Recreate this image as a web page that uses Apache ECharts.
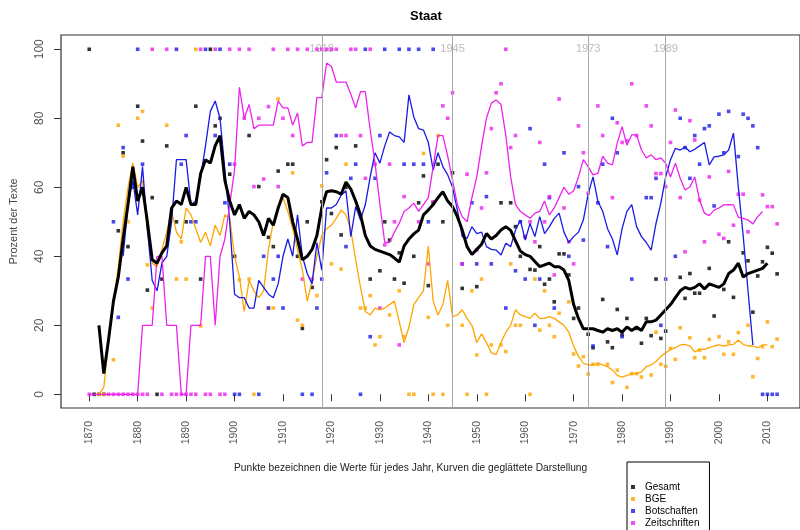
<!DOCTYPE html>
<html>
<head>
<meta charset="utf-8">
<script src="https://cdn.jsdelivr.net/npm/echarts@6/dist/echarts.min.js"></script>
<style>
html,body{margin:0;padding:0;background:#fff;}
#chart{width:800px;height:530px;}
</style>
</head>
<body>
<div id="chart"></div>
<script>
// ---------- DATA ----------
const xTicks = [1870,1880,1890,1900,1910,1920,1930,1940,1950,1960,1970,1980,1990,2000,2010];
const yTicks = [0,20,40,60,80,100];
const eraYears = [1918,1945,1973,1989];
const seriesNames = ['Gesamt','BGE','Botschaften','Zeitschriften'];

// smoothed curves (one value per year, starting at the given year)
const gesamtStart = 1872;
const gesamtSmooth = [20,6,16,27,34,45,55,66,56,60,50,39,38,41,43,54,56,55,60,55,55,64,68,67,72,75,62,56,52,55,51,53,52,50,46,51,49,54,58,57,50,45,39,40,42,46,54,58.7,59,58.7,58,61.5,59.5,56,52,46,43,42,41.5,41,40.5,39.5,38.3,43,45,46.5,47.6,52,53.4,55,57,58.7,56,54.4,51.5,47.6,42.8,40.5,42,43.5,46.6,45,46,47.6,48.6,47.5,44.5,41.5,40.5,40,38.5,37,37.5,38,37,37,36,33,26,22,19,19,19,18.5,18,19,18.5,19,18,19.5,18.5,19.5,18.5,21,21,21.5,23,24.5,26,28,30,31,30.5,31,32,30.5,32,31.5,31,32,35,36,38,34,35,35.5,36,36.5,38];

const bgeStart = 1872;
const bgeSmooth = [0,2,15,27,37,50,60,67,60,62,47,38,37,42,47,53,47,45,54,52,48,44,47,43,49,46,52,51,40,34,24,33,30,28,30,42,50,54,57,53,48,42,36,27,33,40,46,48,49,51,53.4,52,47.6,39,31,24,23,25,24.5,25,26,27,21,15,19.5,26,28,30,43,27,23,26,33,22.5,23,24.5,22,20,15,17.5,15,12,11.5,15,18,20,24.5,23,22.5,22,23.5,22,22,22.5,22,21,20,18,14,11,9,8.5,8.5,9,8.5,8,7,5.5,5,5.5,6,6,6.5,8,8.5,9.5,11,12,13,13.5,14.3,14.5,14,12.3,13,13,13.5,14,14.3,14,14.3,14.5,15.7,14.5,14,14,13.5,14.3,14.3];

const botStart = 1877;
const botSmooth = [40,55,62,52,66,48,33,30,38,40,50,68,68,68,55,56,63,72,82,85,80,65,50,29,28,28,25,25,33,31,29,28,32,40,45,40,52,40,35,32,44,36,54,54,55,57.7,59,45.7,54.4,50.5,55,63,70,67,72,76,75,74.6,73,86.8,80.4,77,76.6,73,65,70,66,63.6,60,53.4,45.7,45.2,48.6,46.6,47,42.8,42,41.8,40.4,43.8,42.8,47.6,50.5,44.7,49.5,45.7,51.5,46.6,48.6,51,52.5,47,44,45.7,47,50.5,58,63,56,53,48,45,40.4,48,53,55,48.6,45.7,44,41.8,49.5,55.4,63,68,71.3,70.8,71.7,70.3,71,72,73,66.5,68.8,69,69.4,70.8,75.7,60,46,30,14.3];

const zeitStart = 1870;
const zeitSmooth = [0,0,0,0,0,0,0,0,0,0,0,20,20,20,40,40,20,20,20,0,0,20,20,20,40,40,20,40,45,55,65,89,80,84,77,78,78,78,78,85,83,83,78,81.5,72,73,73,86,86,96,95,90.5,90.5,90.5,87,83,87.7,87.7,76.6,67,55,44,44,47,49.6,53,54,55.4,53,55,57,66,75,75,69,62,55,51.5,50,57,63,72,80,84.4,85.3,84,75,63,55,53,52,51,52.5,53,56,52,54,57,60,58,59,63,68,66,63.6,64,69,67,66.5,72.8,77.6,72.2,75.2,75.2,70.8,68.5,69.4,68,68.5,67,63,67,62.6,59.2,60.1,63,56.3,52.5,51.8,53.4,54,54.9,55,54.9,51.3,51,50.5,49.4,51.5,53];

// yearly values (points)
const gesamtPoints = [[1870,100],[1871,0],[1872,0],[1873,0],[1876,47.4],[1877,70],[1878,42.8],[1880,83.5],[1881,73.4],[1882,30.2],[1883,57],[1884,0],[1885,33.4],[1886,72],[1888,50],[1890,50],[1892,83.5],[1893,33.4],[1895,100],[1896,77.8],[1897,80],[1899,63.8],[1900,40],[1903,75],[1905,60.2],[1907,45.5],[1908,42.8],[1909,64.7],[1911,66.7],[1912,66.7],[1913,40],[1914,19.1],[1915,50],[1916,31],[1918,55.8],[1919,68],[1920,52.4],[1921,71.5],[1922,46.2],[1923,60],[1925,72],[1928,33.4],[1930,35.8],[1931,50],[1932,44.7],[1933,33.4],[1934,41],[1935,32.2],[1937,40],[1938,55.5],[1939,63.3],[1940,31.5],[1941,55.5],[1942,66.7],[1943,50],[1945,64.2],[1947,30.7],[1950,31.2],[1955,55.5],[1957,55.5],[1958,48.6],[1959,40],[1960,45.7],[1961,36.2],[1962,36],[1963,42.8],[1964,31.9],[1965,33.4],[1966,26.8],[1967,40.7],[1968,40.7],[1969,34.6],[1970,22],[1971,25],[1973,17.4],[1974,13.5],[1976,27.5],[1977,15.2],[1978,13.5],[1979,24.6],[1980,17.2],[1981,22],[1983,19.1],[1984,14.8],[1985,22],[1986,17],[1987,33.4],[1988,16.2],[1989,18.3],[1992,33.9],[1993,27.8],[1994,35],[1995,29.3],[1996,29.3],[1998,36.5],[1999,22.7],[2001,30.4],[2002,44.2],[2003,28.1],[2005,41],[2006,38.7],[2007,23.8],[2008,34.3],[2009,38.4],[2010,42.6],[2011,40.9],[2012,34.9]];

const bgePoints = [[1872,0],[1873,0],[1875,10],[1876,78],[1877,69],[1878,50],[1880,80],[1881,82],[1882,37.5],[1883,25],[1886,78],[1888,33.4],[1889,44.2],[1890,33.4],[1892,100],[1893,19.8],[1901,33.2],[1903,33.4],[1904,0],[1907,25],[1908,25],[1909,85.6],[1912,64.2],[1913,21.5],[1914,20],[1917,28.6],[1918,60.4],[1920,37.8],[1922,36.3],[1923,66.7],[1926,25],[1927,25],[1928,28.6],[1929,14.3],[1930,16.7],[1932,23],[1934,30],[1935,16.7],[1936,0],[1937,0],[1939,69.8],[1940,22.3],[1941,0],[1942,75],[1943,0],[1944,20],[1947,20],[1948,0],[1949,30],[1950,11.4],[1951,33.4],[1952,0],[1953,14.3],[1955,14.3],[1956,12.4],[1957,37.8],[1958,20],[1959,20],[1961,0],[1962,33.4],[1963,18.6],[1964,30],[1965,20],[1966,16.7],[1967,23.5],[1969,26.8],[1970,11.7],[1971,8.2],[1972,10.9],[1973,5.9],[1974,8.7],[1975,8.7],[1977,8.7],[1978,3.4],[1979,7],[1981,2],[1982,6],[1983,6],[1984,5],[1986,5.6],[1987,18],[1988,8.7],[1989,8.1],[1990,13.3],[1991,10.1],[1992,19.3],[1994,16.4],[1995,10.6],[1996,12.8],[1997,10.6],[1998,15.9],[2000,16.7],[2001,11.6],[2002,15.2],[2003,11.6],[2004,17.9],[2006,20],[2007,5.1],[2008,10.4],[2009,13.8],[2010,21],[2011,13.8],[2012,16]];

const botPoints = [[1875,50],[1876,22.3],[1877,71.5],[1878,33.4],[1879,60],[1880,100],[1881,66.7],[1888,100],[1889,66.7],[1890,75],[1891,50],[1892,50],[1894,100],[1896,75],[1897,100],[1898,55.5],[1899,66.7],[1900,0],[1901,0],[1905,0],[1906,40],[1907,25],[1908,33.4],[1909,40],[1910,25],[1914,0],[1916,0],[1917,25],[1918,33.4],[1919,64.2],[1921,75],[1923,42.8],[1924,62.6],[1925,66.7],[1926,0],[1927,100],[1928,16.7],[1929,62.6],[1930,75],[1931,100],[1934,100],[1935,66.7],[1936,100],[1937,66.7],[1938,100],[1939,66.7],[1940,50],[1941,100],[1947,37.8],[1949,55.5],[1950,37.8],[1952,57.3],[1953,37.8],[1956,25],[1958,35.8],[1959,50],[1960,33.4],[1961,77],[1962,20],[1963,33.4],[1964,66.7],[1965,57],[1966,25],[1968,70],[1969,40],[1971,60.2],[1972,44.7],[1974,14],[1975,55.5],[1976,66.7],[1977,42.8],[1978,80],[1979,70],[1980,16.7],[1982,33.4],[1985,57],[1986,57],[1987,62.6],[1988,20],[1989,33.4],[1991,40],[1992,80],[1993,71.5],[1994,62.6],[1995,75],[1996,66.7],[1997,77],[1998,77.8],[1999,54.6],[2000,81.2],[2001,70],[2002,82],[2004,68.9],[2005,81.2],[2006,80],[2007,77.8],[2008,71.5],[2009,0],[2010,0],[2011,0],[2012,0]];

const zeitPoints = [[1870,0],[1874,0],[1875,0],[1876,0],[1877,0],[1878,0],[1879,0],[1880,0],[1881,0],[1882,0],[1883,100],[1885,0],[1886,100],[1887,0],[1888,0],[1889,0],[1890,0],[1891,0],[1892,0],[1893,100],[1894,0],[1895,0],[1896,100],[1897,0],[1898,0],[1899,100],[1900,66.7],[1901,100],[1902,80],[1903,100],[1904,60.2],[1905,80],[1906,62.4],[1907,83.4],[1908,100],[1909,60.2],[1910,80],[1911,100],[1912,75],[1913,100],[1914,33.4],[1915,100],[1916,33.4],[1917,100],[1918,100],[1919,100],[1920,100],[1921,100],[1922,75],[1923,75],[1924,100],[1925,100],[1926,75],[1927,62.6],[1928,100],[1929,66.7],[1930,25],[1931,43.3],[1932,66.7],[1933,50],[1934,14.3],[1935,57.3],[1938,50],[1940,37.8],[1941,55.8],[1943,83.6],[1944,80],[1945,87.4],[1947,37.8],[1948,63.8],[1950,41.8],[1951,54],[1952,64.2],[1953,77],[1954,87.4],[1955,90],[1956,100],[1957,71.5],[1958,75],[1960,45.7],[1961,50],[1962,44.2],[1963,73],[1964,50],[1965,57.3],[1966,34.6],[1967,85.6],[1968,54],[1969,44.2],[1970,37.8],[1971,77.8],[1972,70],[1973,58.3],[1975,83.6],[1976,75],[1978,57],[1979,78.7],[1980,73],[1981,73.5],[1982,90],[1983,75],[1985,83.6],[1986,77.8],[1987,64],[1988,64],[1989,60.2],[1990,73],[1991,82.4],[1992,57],[1993,41.3],[1994,79.3],[1995,73.7],[1996,56.3],[1997,44.2],[1998,63],[2000,46.4],[2001,45.2],[2002,64.6],[2003,49],[2004,58],[2005,58],[2006,47.1],[2009,57.8],[2010,54.4],[2011,54.4],[2012,49.4]];

// ---------- BUILD ----------
const colors = {Gesamt:'#000000', BGE:'#FFA500', Botschaften:'#1a1ae6', Zeitschriften:'#ee22ee'};
const FONT = 'Liberation Sans, Arial, sans-serif';

function toPairs(start, vals){ return vals.map((v,i)=>[start+i, v]); }

function pointSeries(name, data){
  return {name, type:'scatter', data, symbol:'rect', symbolSize:3.6,
    itemStyle:{color:colors[name]}, silent:true, z:2};
}
function lineSeries(name, start, vals, width){
  return {name: name+' (geglättet)', type:'line', data: toPairs(start, vals),
    showSymbol:false, symbol:'none', smooth:false, silent:true, z:3,
    lineStyle:{color:colors[name], width}};
}

const chart = echarts.init(document.getElementById('chart'), null, {renderer:'canvas'});
chart.setOption({
  animation:false,
  backgroundColor:'#fff',
  title:{text:'Staat', left:421, top:5, textAlign:'center',
    textStyle:{fontFamily:FONT, fontSize:13, fontWeight:'bold', color:'#000'}},
  grid:{left:57, right:-3, top:35, bottom:122, show:true, borderColor:'#333', borderWidth:1.2, containLabel:false},
  xAxis:{type:'value', min:1864.17, max:2016.73,
    axisLine:{show:false},
    splitLine:{show:false},
    axisTick:{show:true, inside:false, length:7, customValues:xTicks, lineStyle:{color:'#333', width:1}},
    axisLabel:{show:true, customValues:xTicks, rotate:90, margin:13, fontFamily:FONT, fontSize:10.5, color:'#555',
      formatter:v=>String(v)}
  },
  yAxis:{type:'value', min:-3.97, max:104.14,
    name:'Prozent der Texte', nameLocation:'middle', nameGap:42, nameRotate:90,
    nameTextStyle:{fontFamily:FONT, fontSize:11, color:'#444'},
    axisLine:{show:false},
    splitLine:{show:false},
    axisTick:{show:true, inside:false, length:7, customValues:yTicks, lineStyle:{color:'#333', width:1}},
    axisLabel:{show:true, customValues:yTicks, rotate:90, margin:15, fontFamily:FONT, fontSize:12, color:'#555',
      formatter:v=>String(v)}
  },
  legend:{show:true, orient:'vertical', left:627, top:462, height:90, data:seriesNames,
    backgroundColor:'#fff', borderColor:'#000', borderWidth:1,
    padding:[19,10,12,4], itemGap:0, itemWidth:4, itemHeight:4, icon:'rect',
    textStyle:{fontFamily:FONT, fontSize:10, color:'#000', padding:[0,0,0,5], lineHeight:12, height:12}
  },
  graphic:[{type:'text', left:234, top:463,
    style:{text:'Punkte bezeichnen die Werte für jedes Jahr, Kurven die geglättete Darstellung',
      font:'10.2px '+FONT, fill:'#222'}}],
  series:[
    {name:'Epochen', type:'scatter', data: eraYears.map(y=>[y,100]), symbolSize:1,
      itemStyle:{color:'rgba(0,0,0,0)'}, silent:true, z:1,
      label:{show:true, position:'inside', formatter:p=>String(p.value[0]),
        fontFamily:FONT, fontSize:11, color:'#aaa'},
      markLine:{silent:true, symbol:'none', animation:false,
        label:{show:false}, lineStyle:{color:'#a8a8a8', width:1, type:'solid'},
        data: eraYears.map(y=>({xAxis:y}))}
    },
    pointSeries('Gesamt', gesamtPoints),
    pointSeries('BGE', bgePoints),
    pointSeries('Botschaften', botPoints),
    pointSeries('Zeitschriften', zeitPoints),
    lineSeries('BGE', bgeStart, bgeSmooth, 1.3),
    lineSeries('Botschaften', botStart, botSmooth, 1.3),
    lineSeries('Zeitschriften', zeitStart, zeitSmooth, 1.3),
    lineSeries('Gesamt', gesamtStart, gesamtSmooth, 3)
  ]
});
</script>
</body>
</html>
